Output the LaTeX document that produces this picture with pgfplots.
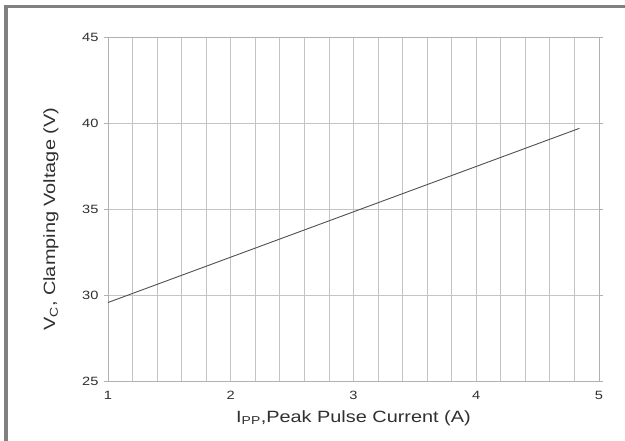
\documentclass[border=0pt]{standalone}
\usepackage{pgfplots}
\pgfplotsset{compat=1.18}
\usepackage{fontspec}
\setmainfont[FakeStretch=1.22]{Liberation Sans}
\definecolor{gridc}{HTML}{C4C4C4}
\definecolor{axc}{HTML}{B0B0B0}
\definecolor{framec}{HTML}{808080}
\definecolor{linec}{HTML}{505050}
\definecolor{txtc}{HTML}{303030}
\begin{document}
\begin{tikzpicture}[x=1pt,y=1pt]
\useasboundingbox (0,0) rectangle (625,441);
\fill[white] (0,0) rectangle (625,441);
\fill[framec] (4,0) rectangle (8,436);
\fill[framec] (4,433) rectangle (625,436);
\begin{axis}[
  at={(108pt,60pt)}, anchor=south west,
  scale only axis, width=491pt, height=343.5pt,
  xmin=1, xmax=5, ymin=25, ymax=45,
  xtick={1,2,3,4,5}, ytick={25,30,35,40,45},
  minor x tick num=4,
  xmajorgrids, xminorgrids, ymajorgrids,
  grid style={gridc, line width=0.8pt},
  minor grid style={gridc, line width=0.8pt},
  axis line style={axc, line width=0.9pt},
  tick align=outside,
  major tick length=4pt, minor tick length=0pt,
  tick style={axc, line width=0.8pt},
  x tick style={draw=none},
  /pgf/number format/assume math mode=true,
  ticklabel style={font=\fontsize{12}{14}\selectfont, text=txtc},
  xticklabel style={yshift=-3pt},
  yticklabel style={xshift=-2pt},
  xlabel={I\textsubscript{PP},Peak Pulse Current (A)},
  ylabel={V\textsubscript{C}, Clamping Voltage (V)},
  label style={font=\fontsize{16.3}{19}\selectfont, text=txtc},
  xlabel style={at={(axis description cs:0.5,0)}, anchor=center, yshift=-37pt},
  ylabel style={at={(axis description cs:0,0.5)}, anchor=center, yshift=57pt, xshift=-10pt},
]
\addplot[color=linec, line width=0.9pt] coordinates {(1,29.57) (4.84,39.71)};
\end{axis}
\end{tikzpicture}
\end{document}
